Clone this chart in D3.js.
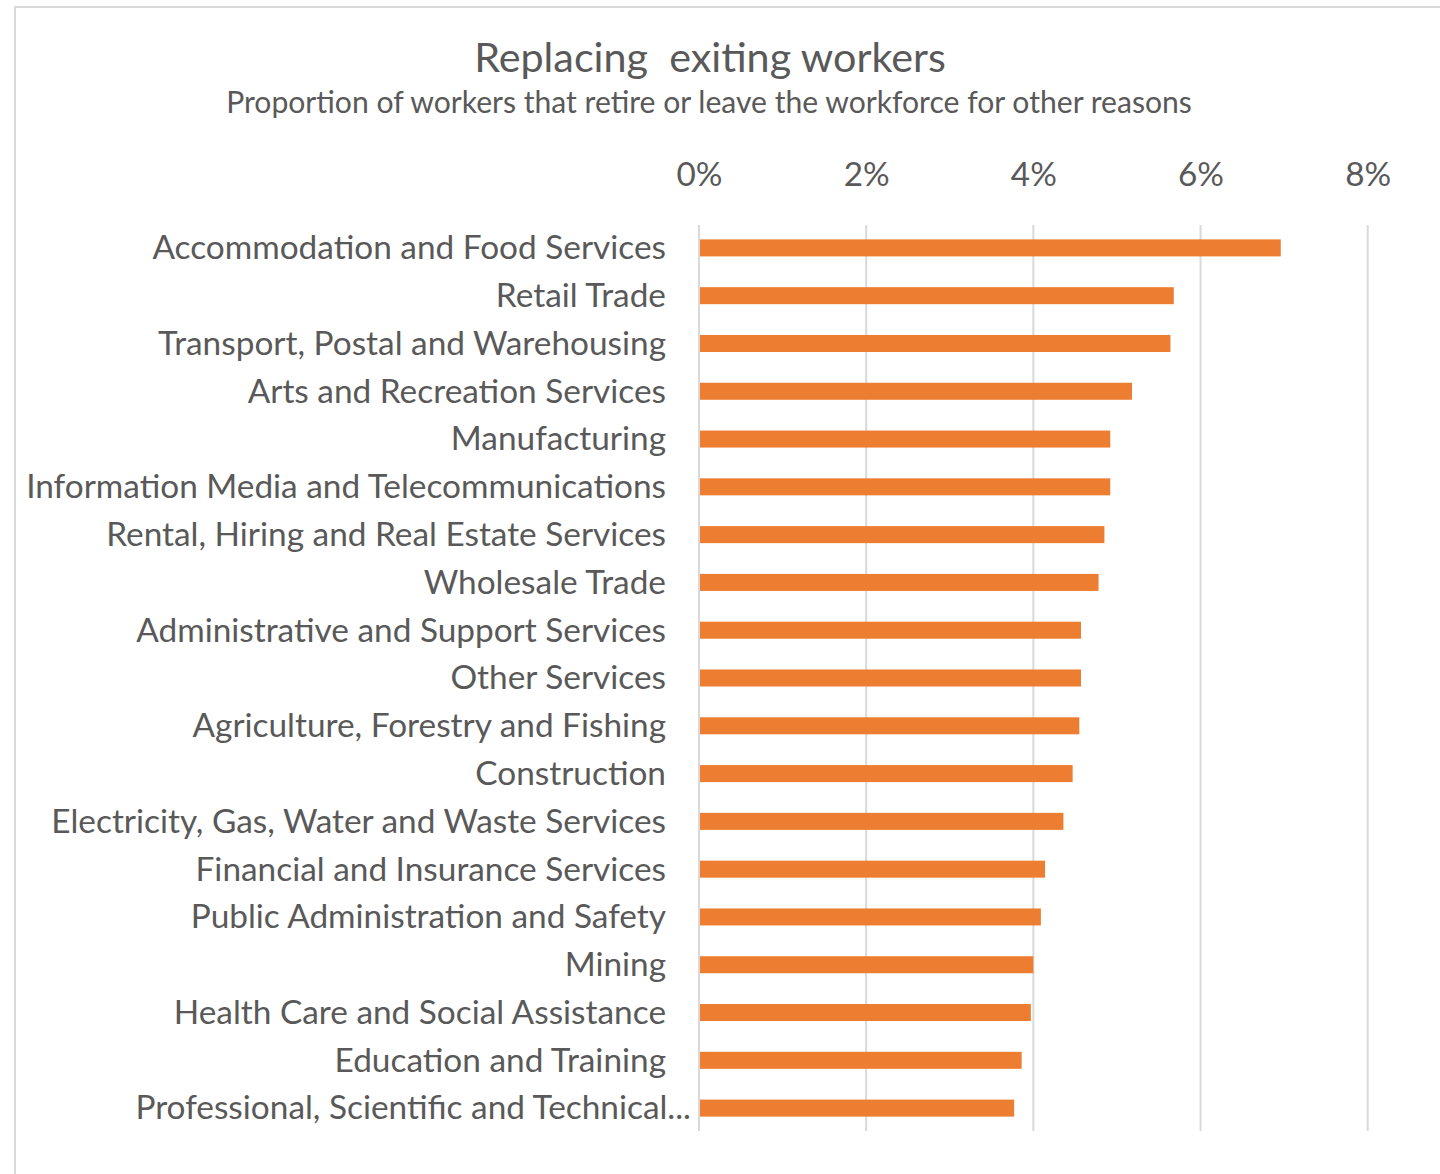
<!DOCTYPE html>
<html>
<head>
<meta charset="utf-8">
<script src="https://cdn.jsdelivr.net/npm/d3@7"></script>
<style>
  html, body { margin: 0; padding: 0; background: #fff; }
  svg { display: block; }
  text { font-family: Lato, "Open Sans", sans-serif; fill: #595959; }
</style>
</head>
<body>
<svg id="chart" width="1440" height="1174"></svg>
<script>
const titleText = "Replacing  exiting workers";
const subtitleText = "Proportion of workers that retire or leave the workforce for other reasons";

const categories = [
  "Accommodation and Food Services",
  "Retail Trade",
  "Transport, Postal and Warehousing",
  "Arts and Recreation Services",
  "Manufacturing",
  "Information Media and Telecommunications",
  "Rental, Hiring and Real Estate Services",
  "Wholesale Trade",
  "Administrative and Support Services",
  "Other Services",
  "Agriculture, Forestry and Fishing",
  "Construction",
  "Electricity, Gas, Water and Waste Services",
  "Financial and Insurance Services",
  "Public Administration and Safety",
  "Mining",
  "Health Care and Social Assistance",
  "Education and Training",
  "Professional, Scientific and Technical..."
];

const values = [
  0.0696, 0.0568, 0.0564, 0.0518, 0.0492, 0.0492, 0.0485, 0.0478,
  0.0457, 0.0457, 0.0455, 0.0447, 0.0436, 0.0414, 0.0409, 0.0400,
  0.0397, 0.0386, 0.0377
];

const tickValues = [0, 0.02, 0.04, 0.06, 0.08];

const data = categories.map((c, i) => ({ category: c, value: values[i] }));

const svg = d3.select("#chart");

// outer frame
svg.append("rect")
  .attr("x", 15).attr("y", 7)
  .attr("width", 1440).attr("height", 1200)
  .attr("fill", "none")
  .attr("stroke", "#d9d9d9")
  .attr("stroke-width", 2);

const x = d3.scaleLinear().domain([0, 0.08]).range([699, 1367.7]);
const y = d3.scaleBand().domain(categories).range([224, 1132])
  .paddingInner(0.644).paddingOuter(0.322);

function fitWidth(sel, target) {
  sel.each(function () {
    const el = d3.select(this);
    const fs = parseFloat(el.attr("font-size"));
    const w = this.getComputedTextLength();
    if (w > 0) el.attr("font-size", fs * target / w);
  });
}

// title & subtitle
const title = svg.append("text")
  .attr("x", 710).attr("y", 72)
  .attr("text-anchor", "middle")
  .attr("font-size", 34)
  .style("white-space", "pre")
  .attr("xml:space", "preserve")
  .text(titleText);
fitWidth(title, 472);

const subtitle = svg.append("text")
  .attr("x", 709).attr("y", 113)
  .attr("text-anchor", "middle")
  .attr("font-size", 26)
  .text(subtitleText);
fitWidth(subtitle, 966);

// gridlines
svg.append("g")
  .selectAll("line")
  .data(tickValues)
  .join("line")
  .attr("x1", d => x(d)).attr("x2", d => x(d))
  .attr("y1", 225).attr("y2", 1131)
  .attr("stroke", "#d9d9d9")
  .attr("stroke-width", 2);

// top axis tick labels
const xAxis = d3.axisTop(x)
  .tickValues(tickValues)
  .tickFormat(d3.format(".0%"))
  .tickSize(0)
  .tickPadding(0);

const axG = svg.append("g")
  .attr("transform", "translate(0,186)")
  .call(xAxis);
axG.select(".domain").remove();
axG.selectAll("text")
  .attr("font-family", null)
  .attr("font-size", 30)
  .attr("dy", 0)
  .attr("fill", null);
(function () {
  const n = axG.select("text").node();
  const w = n.getComputedTextLength();
  const fs = 30 * 46 / w;
  axG.selectAll("text").attr("font-size", fs);
})();

// bars
svg.append("g")
  .selectAll("rect")
  .data(data)
  .join("rect")
  .attr("x", x(0) + 1)
  .attr("y", d => y(d.category))
  .attr("width", d => x(d.value) - x(0) - 1)
  .attr("height", y.bandwidth())
  .attr("fill", "#ED7D31");

// category labels
const labels = svg.append("g")
  .selectAll("text")
  .data(data)
  .join("text")
  .attr("x", d => d.category.endsWith("...") ? 691 : 666)
  .attr("y", d => y(d.category) + y.bandwidth() / 2)
  .attr("dy", "0.34em")
  .attr("text-anchor", "end")
  .attr("font-size", 28)
  .text(d => d.category);

(function () {
  const ref = labels.filter(d => d.category === "Information Media and Telecommunications").node();
  const w = ref.getComputedTextLength();
  labels.attr("font-size", 28 * 640 / w);
})();
</script>
</body>
</html>
